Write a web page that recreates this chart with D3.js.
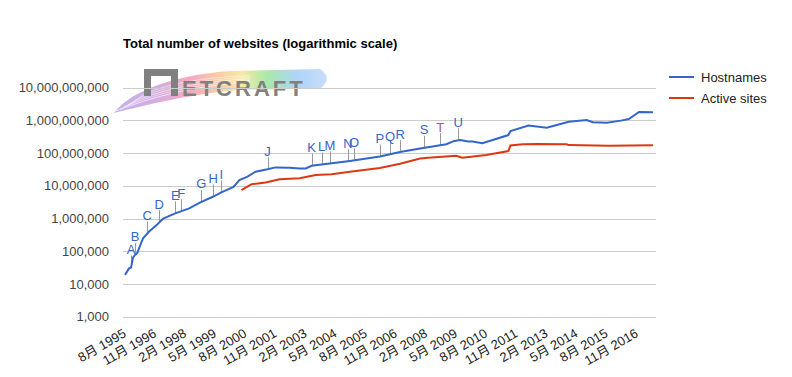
<!DOCTYPE html>
<html>
<head>
<meta charset="utf-8">
<script src="https://cdn.jsdelivr.net/npm/d3@7"></script>
<style>
  body { margin: 0; background: #fff; }
  svg text { font-family: Arial, "Liberation Sans", "Noto Sans CJK SC", sans-serif; }
</style>
</head>
<body>
<svg id="chart" width="792" height="377"></svg>
<script>
// Hostnames series (survey month, count)
var hostDates = ['1995-08','1995-10','1995-11','1995-12','1996-01','1996-02','1996-03','1996-05','1996-08','1996-12',
    '1997-03','1997-09','1998-04','1998-09','1999-04','1999-08','2000-02','2000-05','2000-09','2001-01',
    '2001-07','2001-11','2002-06','2002-11','2003-02','2003-05','2004-03','2004-12','2006-03','2007-01',
    '2007-11','2008-12','2009-04','2009-07','2009-11','2010-01','2010-06','2011-07','2011-08','2012-05',
    '2013-02','2014-01','2014-10','2015-01','2015-08','2016-03','2016-07','2016-12','2017-07'];
var hostValues = [18957, 30000, 32000, 65000, 77000, 87000, 123000, 250000, 400000, 660000,
    1000000, 1440000, 2040000, 3000000, 4700000, 6300000, 9300000, 15000000, 19000000, 27000000,
    32000000, 36500000, 35500000, 34000000, 34000000, 41000000, 49000000, 57500000, 78000000, 107000000,
    138000000, 186000000, 235000000, 252000000, 225000000, 225000000, 200000000, 355000000, 470000000, 690000000,
    590000000, 910000000, 1020000000, 870000000, 850000000, 980000000, 1100000000, 1800000000, 1750000000];

// Active sites series
var activeDates = ['2000-06','2000-11','2001-06','2002-01','2002-11','2003-07','2004-03','2004-12','2006-03','2007-01',
    '2007-11','2008-03','2009-05','2009-08','2010-08','2011-07','2011-08','2012-02','2012-09','2013-12',
    '2014-01','2015-09','2017-07'];
var activeValues = [7400000, 11200000, 12600000, 15900000, 17000000, 21400000, 22500000, 27000000, 35000000, 47000000,
    68000000, 72000000, 83000000, 72000000, 87000000, 115000000, 170000000, 186000000, 190000000, 186000000,
    175000000, 167000000, 173000000];

// Event markers on the hostnames line
var eventLetters = ['A','B','C','D','E','F','G','H','I','J','K','L','M','N','O','P','Q','R','S','T','U'];
var eventDates = ['1995-11','1996-01','1996-07','1997-01','1997-09','1997-12','1998-10','1999-04','1999-08','2001-07',
    '2003-05','2003-10','2004-02','2004-11','2005-02','2006-03','2006-08','2007-01','2008-01','2008-09','2009-06'];

var yTickValues = [1e3, 1e4, 1e5, 1e6, 1e7, 1e8, 1e9, 1e10];
var xTickMonths = ['1995-08','1996-11','1998-02','1999-05','2000-08','2001-11','2003-02','2004-05','2005-08',
    '2006-11','2008-02','2009-05','2010-08','2011-11','2013-02','2014-05','2015-08','2016-11'];
var seriesNames = ['Hostnames', 'Active sites'];
var seriesColors = ['#3366cc', '#dc3912'];

var parseMonth = d3.timeParse('%Y-%m');
var svg = d3.select('#chart');

var x = d3.scaleTime()
    .domain([parseMonth('1995-08'), parseMonth('2017-08')])
    .range([125, 655]);
var y = d3.scaleLog()
    .domain([1e3, 1e10])
    .range([316.7, 87.6]);

var hostData = hostDates.map(function(d, i) { return {date: parseMonth(d), value: hostValues[i]}; });
var activeData = activeDates.map(function(d, i) { return {date: parseMonth(d), value: activeValues[i]}; });

// Title
svg.append('text')
    .attr('x', 123).attr('y', 48)
    .attr('font-size', 13).attr('font-weight', 'bold').attr('fill', '#000')
    .text('Total number of websites (logarithmic scale)');

// Netcraft watermark
var defs = svg.append('defs');
var grad = defs.append('linearGradient').attr('id', 'rainbow')
    .attr('x1', '0%').attr('x2', '100%').attr('y1', '0%').attr('y2', '0%');
[['0%', '#bfa6e6'], ['20%', '#cfa3e0'], ['36%', '#f4a0b8'], ['50%', '#fbc99a'], ['60%', '#f8e79a'], ['72%', '#9fe6a0'], ['86%', '#a6d0f7'], ['100%', '#c2d9fb']]
    .forEach(function(s) { grad.append('stop').attr('offset', s[0]).attr('stop-color', s[1]); });

var logo = svg.append('g').attr('class', 'logo');
logo.append('path')
    .attr('d', 'M114,113 C128,94 166,76 230,71 L320,69 Q333,77 321,88 L240,90 C190,94 150,104 114,113 Z')
    .attr('fill', 'url(#rainbow)')
    .attr('opacity', 0.9);
[[0, 0.8], [4, 0.6], [8, 0.7], [12, 0.5], [16, 0.6]].forEach(function(o) {
    logo.append('path')
        .attr('d', 'M' + (116 + o[0]) + ',' + (111 - o[0] * 0.5) + ' C150,' + (98 - o[0] * 0.7) + ' 190,' + (86 - o[0] * 0.5) + ' 250,' + (82 - o[0] * 0.4))
        .attr('fill', 'none').attr('stroke', '#fff').attr('stroke-width', 0.8).attr('opacity', o[1]);
});
// stylised N
logo.append('path')
    .attr('d', 'M144,69 L178,69 L178,96 L171,96 L171,76 L151,76 L151,96 L144,96 Z')
    .attr('fill', '#808080');
logo.append('text')
    .attr('x', 182).attr('y', 96)
    .attr('font-size', 22).attr('font-weight', 'bold').attr('fill', '#808080')
    .attr('letter-spacing', 3)
    .text('ETCRAFT');

// Gridlines and y labels
var yAxisG = svg.append('g');
yAxisG.selectAll('line.grid')
    .data(yTickValues).enter()
    .append('line')
    .attr('class', 'grid')
    .attr('x1', 123).attr('x2', 656)
    .attr('y1', function(d) { return Math.round(y(d)) + 0.5; })
    .attr('y2', function(d) { return Math.round(y(d)) + 0.5; })
    .attr('stroke', '#cccccc').attr('stroke-width', 1);
yAxisG.selectAll('text')
    .data(yTickValues).enter()
    .append('text')
    .attr('x', 109)
    .attr('y', function(d) { return y(d); })
    .attr('dy', '0.35em')
    .attr('text-anchor', 'end')
    .attr('font-size', 13).attr('fill', '#444')
    .text(function(d) { return d3.format(',')(d); });

// X labels, slanted
svg.append('g').selectAll('text')
    .data(xTickMonths).enter()
    .append('text')
    .attr('transform', function(d) { return 'translate(' + (x(parseMonth(d)) + 2) + ',336) rotate(-30)'; })
    .attr('text-anchor', 'end')
    .attr('font-size', 13).attr('fill', '#222')
    .text(function(d) {
        var dt = parseMonth(d);
        return (dt.getMonth() + 1) + '月 ' + dt.getFullYear();
    });

// Lines
var line = d3.line()
    .x(function(d) { return x(d.date); })
    .y(function(d) { return y(d.value); });

svg.append('path').datum(activeData)
    .attr('d', line).attr('fill', 'none')
    .attr('stroke', seriesColors[1]).attr('stroke-width', 2);

// annotation stems drawn under hostnames line
function hostAt(date) {
    var i = d3.bisector(function(d) { return d.date; }).left(hostData, date);
    if (i <= 0) return hostData[0].value;
    if (i >= hostData.length) return hostData[hostData.length - 1].value;
    var a = hostData[i - 1], b = hostData[i];
    var t = (date - a.date) / (b.date - a.date);
    return Math.pow(10, Math.log10(a.value) + t * (Math.log10(b.value) - Math.log10(a.value)));
}
var events = eventLetters.map(function(l, i) {
    var dt = parseMonth(eventDates[i]);
    return {letter: l, date: dt, value: hostAt(dt)};
});
var ev = svg.append('g').selectAll('g')
    .data(events).enter()
    .append('g');
ev.append('line')
    .attr('x1', function(d) { return Math.round(x(d.date)) + 0.5; })
    .attr('x2', function(d) { return Math.round(x(d.date)) + 0.5; })
    .attr('y1', function(d) { return y(d.value); })
    .attr('y2', function(d) { return y(d.value) - 12; })
    .attr('stroke', '#999').attr('stroke-width', 1);
ev.append('text')
    .attr('x', function(d) { return x(d.date); })
    .attr('y', function(d) { return y(d.value) - 13.5; })
    .attr('text-anchor', 'middle')
    .attr('font-size', 13)
    .attr('fill', function(d) { return d.letter === 'T' ? '#9b59a6' : '#3366cc'; })
    .text(function(d) { return d.letter; });

svg.append('path').datum(hostData)
    .attr('d', line).attr('fill', 'none')
    .attr('stroke', seriesColors[0]).attr('stroke-width', 2);

// Legend
var legend = svg.append('g').selectAll('g')
    .data(seriesNames).enter()
    .append('g')
    .attr('transform', function(d, i) { return 'translate(669,' + (77 + i * 21) + ')'; });
legend.append('line')
    .attr('x1', 0).attr('x2', 25)
    .attr('stroke', function(d, i) { return seriesColors[i]; })
    .attr('stroke-width', 2);
legend.append('text')
    .attr('x', 32).attr('dy', '0.35em')
    .attr('font-size', 13).attr('fill', '#222')
    .text(function(d) { return d; });
</script>
</body>
</html>
